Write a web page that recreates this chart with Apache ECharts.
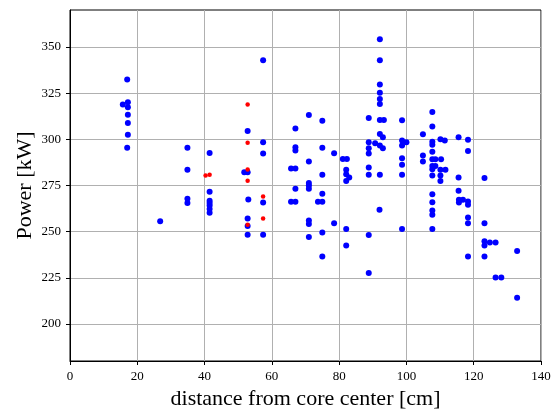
<!DOCTYPE html>
<html>
<head>
  <meta charset="utf-8">
  <title>Power vs distance</title>
  <script src="https://cdn.jsdelivr.net/npm/echarts@6/dist/echarts.min.js"></script>
</head>
<body style="margin:0">
<div id="main" style="width:556px;height:410px;"></div>

<script type="text/javascript">
  // [distance (cm), power (kW)]
  var bluePoints = [
    [17.0, 332.4], [15.7, 318.9], [17.2, 320.0], [17.2, 317.3], [17.2, 313.3], [17.2, 308.8], [17.2, 302.5], [17.0, 295.5],
    [26.8, 255.6],
    [34.9, 295.5], [34.9, 283.5], [34.9, 267.8], [34.9, 265.5],
    [41.5, 292.6], [41.5, 271.6], [41.5, 266.7], [41.5, 265.5], [41.5, 264.2], [41.5, 262.3], [41.5, 260.3],
    [52.8, 304.5], [51.8, 282.2], [52.8, 282.2], [53.0, 267.4], [52.8, 257.2], [52.8, 253.1], [52.8, 248.4],
    [57.4, 342.8], [57.4, 298.4], [57.4, 292.3], [57.4, 265.8], [57.4, 248.4],
    [67.0, 305.8], [67.0, 295.7], [67.0, 293.9], [65.7, 284.2], [67.0, 284.2], [67.0, 273.2], [65.7, 266.2], [67.0, 266.2],
    [71.0, 313.1], [71.0, 288.0], [71.0, 276.4], [71.0, 275.0], [71.0, 273.2], [71.0, 256.1], [71.0, 254.2], [71.0, 247.1],
    [75.0, 310.1], [75.0, 295.5], [75.0, 280.8], [75.0, 270.5], [73.7, 266.2], [75.0, 266.2], [75.0, 249.6], [75.0, 236.6],
    [78.5, 292.5], [78.5, 254.5],
    [81.1, 289.4], [82.3, 289.4], [82.1, 283.5], [82.1, 281.1], [83.0, 279.3], [82.1, 277.5], [82.1, 251.5], [82.1, 242.5],
    [88.8, 311.5], [88.8, 298.4], [88.8, 295.2], [88.8, 292.3], [88.8, 284.7], [88.8, 280.8], [88.8, 248.2], [88.8, 227.7],
    [90.7, 297.9],
    [92.1, 354.2], [92.1, 342.8], [92.1, 329.7], [92.1, 325.2], [92.1, 321.8], [92.1, 319.1], [92.1, 310.4], [93.3, 310.4],
    [92.1, 302.9], [93.0, 301.1], [92.1, 296.6], [93.0, 295.2], [92.1, 280.8], [92.0, 261.9],
    [98.7, 310.3], [98.7, 299.3], [100.0, 298.4], [98.7, 296.6], [98.7, 289.8], [98.7, 286.2], [98.7, 280.8], [98.7, 251.5],
    [104.9, 302.7], [104.9, 291.2], [104.9, 288.0],
    [107.7, 314.8], [107.7, 306.9], [107.7, 298.7], [107.7, 297.0], [107.7, 293.3], [107.7, 289.2], [108.6, 289.2],
    [107.7, 285.6], [108.6, 285.6], [107.7, 283.8], [107.7, 280.4], [107.7, 270.3], [107.7, 266.0], [107.7, 261.5],
    [107.7, 259.2], [107.7, 251.5],
    [110.1, 300.0], [111.4, 299.3], [110.3, 289.2], [110.1, 283.5], [111.6, 283.5], [110.1, 280.4], [110.1, 277.5],
    [115.5, 301.1], [115.5, 279.3], [115.5, 272.1], [115.6, 267.3], [116.8, 267.3], [115.6, 265.8], [118.3, 266.4], [118.3, 264.6],
    [118.3, 299.8], [118.3, 293.7], [118.3, 257.7], [118.3, 254.5], [118.3, 236.6],
    [123.2, 279.0], [123.2, 254.5], [123.2, 244.8], [123.2, 242.5], [124.8, 244.2], [126.5, 244.2], [123.2, 236.6],
    [132.9, 239.6], [126.5, 225.2], [128.2, 225.2], [132.9, 214.2]
  ];
  var redPoints = [
    [40.3, 280.4], [41.5, 280.8], [52.8, 318.9], [52.8, 298.2], [52.8, 283.6], [52.8, 277.6], [52.8, 253.8],
    [57.4, 269.0], [57.4, 257.2]
  ];
  var yTicks = [200, 225, 250, 275, 300, 325, 350];

  var serif = 'Liberation Serif';
  var chart = echarts.init(document.getElementById('main'));
  chart.setOption({
    animation: false,
    grid: {
      left: 70, right: 15, top: 10, bottom: 49,
      outerBoundsMode: 'none',
      show: true, borderColor: '#000', borderWidth: 1
    },
    xAxis: {
      type: 'value',
      min: 0, max: 140, interval: 20,
      name: 'distance from core center [cm]',
      nameLocation: 'middle',
      nameGap: 26,
      nameTextStyle: {fontFamily: serif, fontSize: 22, color: '#000'},
      axisLine: {lineStyle: {color: '#000'}},
      axisTick: {length: 4, lineStyle: {color: '#000'}},
      axisLabel: {fontFamily: serif, fontSize: 13, color: '#000', margin: 9},
      splitLine: {lineStyle: {color: '#b0b0b0'}}
    },
    yAxis: {
      type: 'value',
      min: 180, max: 370, interval: 25,
      name: 'Power [kW]',
      nameLocation: 'middle',
      nameGap: 34,
      nameMoveOverlap: false,
      nameTextStyle: {fontFamily: serif, fontSize: 22, color: '#000'},
      axisLine: {show: true, lineStyle: {color: '#000'}},
      axisTick: {show: true, length: 4, customValues: yTicks, lineStyle: {color: '#000'}},
      axisLabel: {fontFamily: serif, fontSize: 13, color: '#000', margin: 9, customValues: yTicks},
      splitLine: {lineStyle: {color: '#b0b0b0'}}
    },
    series: [
      {
        type: 'scatter',
        data: bluePoints,
        symbolSize: 6,
        itemStyle: {color: '#0000ff', opacity: 1}
      },
      {
        type: 'scatter',
        data: redPoints,
        symbolSize: 4.5,
        itemStyle: {color: '#ff0000', opacity: 1}
      }
    ]
  });
</script>
</body>
</html>
